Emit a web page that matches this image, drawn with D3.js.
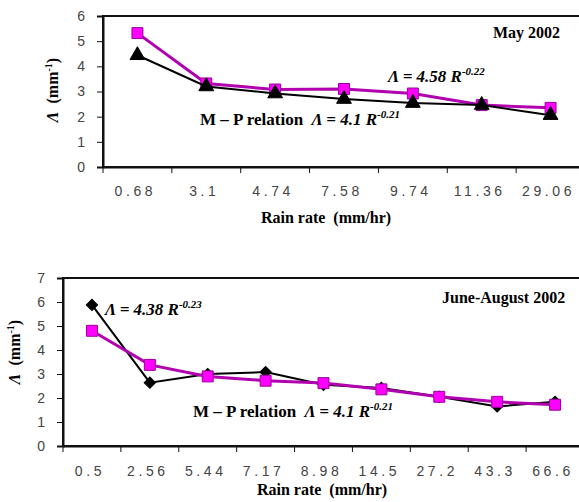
<!DOCTYPE html>
<html>
<head>
<meta charset="utf-8">
<title>Lambda vs rain rate</title>
<script type="text/javascript" src="https://cdn.jsdelivr.net/npm/d3@7"></script>
<style>
body { margin: 0; background: #fff; }
</style>
</head>
<body>
<script type="text/javascript">

// dati: grafico di maggio
var mayRates = ["0.68", "3.1", "4.74", "7.58", "9.74", "11.36", "29.06"];
var mayFit = [5.32, 3.32, 3.08, 3.1, 2.92, 2.46, 2.35];   // quadrati magenta
var mayMP = [4.44, 3.2, 2.92, 2.7, 2.54, 2.46, 2.06];     // triangoli neri
var mayTicks = [0, 1, 2, 3, 4, 5, 6];

// dati: grafico giugno-agosto
var summerRates = ["0.5", "2.56", "5.44", "7.17", "8.98", "14.5", "27.2", "43.3", "66.6"];
var summerObs = [5.88, 2.64, 3.0, 3.08, 2.55, 2.42, 2.05, 1.65, 1.84]; // rombi neri
var summerFit = [4.8, 3.38, 2.9, 2.72, 2.62, 2.36, 2.05, 1.84, 1.72]; // quadrati magenta
var summerTicks = [0, 1, 2, 3, 4, 5, 6, 7];

var svg = d3.select("body")
  .append("svg")
  .attr("width", 579)
  .attr("height", 502);

var serif = "Liberation Serif, Tinos, Times New Roman, serif";
var sans = "Liberation Sans, Arimo, Arial, sans-serif";

function drawPanel(p) {
  var g = svg.append("g");

  var x = d3.scaleBand().domain(p.cats).range([p.left, p.right]).padding(0);
  var y = d3.scaleLinear().domain([0, p.ymax]).range([p.bottom, p.top]);

  // cornice (il lato destro esce dall'immagine)
  g.append("rect")
    .attr("x", p.left).attr("y", p.top)
    .attr("width", p.right + 10 - p.left).attr("height", p.bottom - p.top)
    .attr("fill", "none").attr("stroke", "#111").attr("stroke-width", 2);

  // asse y
  var yAxis = g.append("g")
    .attr("transform", "translate(" + p.left + ",0)")
    .call(d3.axisLeft(y).tickValues(p.yticks).tickSize(6).tickPadding(12).tickFormat(d3.format("d")));
  yAxis.select(".domain").attr("stroke", "#111").attr("stroke-width", 2);
  yAxis.selectAll(".tick line").attr("stroke", "#111");
  yAxis.selectAll("text")
    .attr("font-family", sans).attr("font-size", 14).attr("fill", "#444");

  // asse x: etichette al centro, tacche ai bordi delle categorie
  var xAxis = g.append("g")
    .attr("transform", "translate(0," + p.bottom + ")")
    .call(d3.axisBottom(x).tickSize(0).tickPadding(p.labelPad));
  xAxis.select(".domain").attr("stroke", "#111").attr("stroke-width", 2);
  xAxis.selectAll("text")
    .attr("font-family", sans).attr("font-size", 14).attr("fill", "#444")
    .attr("letter-spacing", "3.6px").attr("dx", -2);

  var edges = p.cats.map(function (c) { return x(c); }).concat([p.right]);
  g.selectAll(".xtick")
    .data(edges)
    .enter().append("line")
    .attr("x1", function (d) { return d; }).attr("x2", function (d) { return d; })
    .attr("y1", p.bottom).attr("y2", p.bottom + 6)
    .attr("stroke", "#111");

  var cx = function (d, i) { return x(p.cats[i]) + x.bandwidth() / 2; };

  p.series.forEach(function (s) {
    var line = d3.line().x(function (d, i) { return cx(d, i); }).y(function (d) { return y(d); });
    g.append("path")
      .datum(s.values)
      .attr("d", line)
      .attr("fill", "none")
      .attr("stroke", s.line)
      .attr("stroke-width", s.width);

    var sym = d3.symbol().type(s.symbol).size(s.size);
    g.selectAll(null)
      .data(s.values)
      .enter().append("path")
      .attr("d", sym)
      .attr("transform", function (d, i) { return "translate(" + cx(d, i) + "," + y(d) + ")" + (s.rotate ? " rotate(45)" : ""); })
      .attr("fill", s.fill)
      .attr("stroke", s.stroke)
      .attr("stroke-width", 1);
  });

  // titolo del periodo
  g.append("text")
    .attr("x", p.title[1]).attr("y", p.title[2])
    .attr("font-family", serif).attr("font-weight", "bold").attr("font-size", 16)
    .text(p.title[0]);

  // etichette delle equazioni
  p.eqs.forEach(function (e) {
    var t = g.append("text")
      .attr("x", e.x).attr("y", e.y)
      .attr("font-family", serif).attr("font-weight", "bold").attr("font-size", 17)
      .style("white-space", "pre");
    if (e.prefix) t.append("tspan").text(e.prefix);
    t.append("tspan").attr("font-style", "italic").text("\u039B = " + e.coef + " R");
    t.append("tspan").attr("font-style", "italic").attr("font-size", 11).attr("dy", -7).text(e.exp);
  });

  // titolo asse x
  g.append("text")
    .attr("x", p.xlab[0]).attr("y", p.xlab[1])
    .attr("text-anchor", "middle")
    .attr("font-family", serif).attr("font-weight", "bold").attr("font-size", 16)
    .style("white-space", "pre")
    .text("Rain rate  (mm/hr)");

  // titolo asse y
  var yl = g.append("text")
    .attr("transform", "translate(" + p.ylab[0] + "," + p.ylab[1] + ") rotate(-90)")
    .attr("text-anchor", "middle")
    .attr("font-family", serif).attr("font-weight", "bold").attr("font-size", 16)
    .style("white-space", "pre");
  yl.append("tspan").attr("font-style", "italic").text("\u039B");
  yl.append("tspan").text("  (mm");
  yl.append("tspan").attr("font-size", 10).attr("dy", -6).text("-1");
  yl.append("tspan").attr("dy", 6).text(")");
}

var magenta = { line: "#b000b0", width: 3, symbol: d3.symbolSquare, size: 120, fill: "#ff00ff", stroke: "#990099" };

drawPanel({
  cats: mayRates, ymax: 6, yticks: mayTicks,
  left: 103, right: 585, top: 16, bottom: 167, labelPad: 19,
  series: [
    Object.assign({ values: mayFit }, magenta),
    { values: mayMP, line: "#000", width: 2, symbol: d3.symbolTriangle, size: 95, fill: "#000", stroke: "#000" }
  ],
  title: ["May 2002", 493, 38],
  eqs: [
    { x: 388, y: 82, coef: "4.58", exp: "-0.22" },
    { x: 200, y: 125, prefix: "M \u2013 P relation  ", coef: "4.1", exp: "-0.21" }
  ],
  xlab: [326, 223],
  ylab: [58, 90]
});

drawPanel({
  cats: summerRates, ymax: 7, yticks: summerTicks,
  left: 63, right: 584, top: 278, bottom: 446, labelPad: 20,
  series: [
    { values: summerObs, line: "#000", width: 2, symbol: d3.symbolSquare, size: 64, fill: "#000", stroke: "#000", rotate: true },
    Object.assign({ values: summerFit }, magenta)
  ],
  title: ["June-August 2002", 442, 303],
  eqs: [
    { x: 105, y: 315, coef: "4.38", exp: "-0.23" },
    { x: 193, y: 417, prefix: "M \u2013 P relation  ", coef: "4.1", exp: "-0.21" }
  ],
  xlab: [322, 495],
  ylab: [20, 352]
});

</script>
</body>
</html>
